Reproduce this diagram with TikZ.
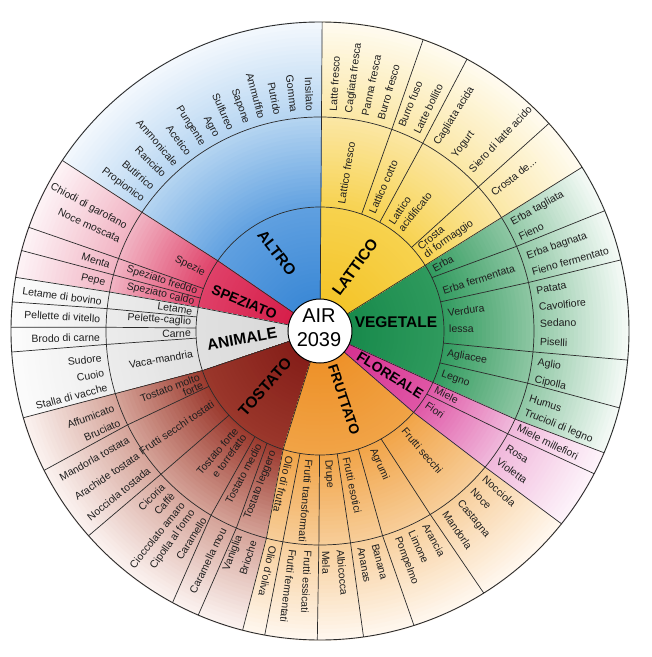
\documentclass[tikz,border=0pt]{standalone}
\usepackage{fontspec}
\setmainfont{Liberation Sans}
\definecolor{linec}{HTML}{2B2B2B}
\definecolor{txtc}{HTML}{1E1E1E}
\definecolor{altA}{HTML}{2F80D2}\definecolor{altB}{HTML}{5FA0E0}\definecolor{altC}{HTML}{B4D4F1}\definecolor{altD}{HTML}{F3F8FD}
\definecolor{latA}{HTML}{F3C01C}\definecolor{latB}{HTML}{F7D24E}\definecolor{latC}{HTML}{FBE7A4}\definecolor{latD}{HTML}{FFFBEF}
\definecolor{vegA}{HTML}{0F8445}\definecolor{vegB}{HTML}{2F9A5D}\definecolor{vegC}{HTML}{8CC6A2}\definecolor{vegD}{HTML}{F4FAF6}
\definecolor{floA}{HTML}{D2258A}\definecolor{floB}{HTML}{DF55A5}\definecolor{floC}{HTML}{F0B6DA}\definecolor{floD}{HTML}{FDF3FA}
\definecolor{fruA}{HTML}{EC8B1E}\definecolor{fruB}{HTML}{F1A346}\definecolor{fruC}{HTML}{F7CD98}\definecolor{fruD}{HTML}{FFF7EE}
\definecolor{tosA}{HTML}{7E1512}\definecolor{tosB}{HTML}{9A372B}\definecolor{tosC}{HTML}{D4A196}\definecolor{tosD}{HTML}{FBF2EF}
\definecolor{aniA}{HTML}{D6D6D6}\definecolor{aniB}{HTML}{E0E0E0}\definecolor{aniC}{HTML}{ECECEC}\definecolor{aniD}{HTML}{FCFCFC}
\definecolor{speA}{HTML}{D3123F}\definecolor{speB}{HTML}{DF4068}\definecolor{speC}{HTML}{F1B2C2}\definecolor{speD}{HTML}{FDF3F6}
\newcommand\wclip[6]{\clip (0,0) -- (#1:124pt) -- (#2:214pt) -- (#3:312pt) arc[start angle=#3, end angle=#6, radius=312pt] -- (#5:214pt) -- (#4:124pt) -- cycle;}
\newcommand\wgrad[4]{%
 \foreach \k in {0,...,77}{%
   \pgfmathsetmacro\rr{310-4*\k}%
   \pgfmathtruncatemacro\seg{\rr>=214 ? 2 : (\rr>=124 ? 1 : 0)}%
   \ifcase\seg\relax
     \pgfmathsetmacro\pp{100*\rr/124}\colorlet{rc}{#2!\pp!#1}%
   \or
     \pgfmathsetmacro\pp{100*(\rr-124)/90}\colorlet{rc}{#3!\pp!#2}%
   \else
     \pgfmathsetmacro\pp{min(100*(\rr-214)/95,100)}\colorlet{rc}{#4!\pp!#3}%
   \fi
   \fill[rc] (0,0) circle (\rr pt);}}
\begin{document}
\begin{tikzpicture}[
  wl/.style={draw=linec, line width=0.7pt},
  wtxt/.style={font=\fontsize{10.5}{12}\selectfont, text=txtc, inner sep=0pt},
  cat/.style={font=\fontsize{15.5}{18}\selectfont\bfseries, text=black, inner sep=0pt},
  catsm/.style={font=\fontsize{14}{16}\selectfont\bfseries, text=black, inner sep=0pt}]
\useasboundingbox (-320pt,-326pt) rectangle (332pt,331pt);
\fill[white] (-320pt,-326pt) rectangle (332pt,331pt);
% coloured sectors with radial fade
\begin{scope}\wclip{335.5}{335.7}{336.8}{392}{392}{392}\wgrad{vegA}{vegB}{vegC}{vegD}\end{scope}
\begin{scope}\wclip{32}{32}{32}{89.6}{89.6}{89.6}\wgrad{latA}{latB}{latC}{latD}\end{scope}
\begin{scope}\wclip{89.6}{89.6}{89.6}{145.5}{146.3}{146.5}\wgrad{altA}{altB}{altC}{altD}\end{scope}
\begin{scope}\wclip{145.5}{146.3}{146.5}{169}{169.5}{170}\wgrad{speA}{speB}{speC}{speD}\end{scope}
\begin{scope}\wclip{169}{169.5}{170}{198.6}{197}{196.3}\wgrad{aniA}{aniB}{aniC}{aniD}\end{scope}
\begin{scope}\wclip{198.6}{197}{196.3}{252.7}{255.5}{255.5}\wgrad{tosA}{tosB}{tosC}{tosD}\end{scope}
\begin{scope}\wclip{252.7}{255.5}{255.5}{319}{320.5}{321.4}\wgrad{fruA}{fruB}{fruC}{fruD}\end{scope}
\begin{scope}\wclip{319}{320.5}{321.4}{335.5}{335.7}{336.8}\wgrad{floA}{floB}{floC}{floD}\end{scope}
% main boundaries
\foreach \i/\m/\o in {32/32/32, 89.6/89.6/89.6, 145.5/146.3/146.5, 169/169.5/170, 198.6/197/196.3, 252.7/255.5/255.5, 319/320.5/321.4, 335.5/335.7/336.8}
  \draw[wl] (0,0) -- (\i:124pt) -- (\m:214pt) -- (\o:309pt);
% inner boundaries
\foreach \i/\m/\o in {70.4/70.4/70.5, 61.2/61.3/61.6, 42.4/42.3/42.2, 160/160.2/160.4, 164.6/164.8/164.9, 173.5/174/174.6, 178.6/179/179.3, 183.3/183.6/183.9, 206.5/206/206.8, 222.8/222/221.5, 238.4/239.4/241.5, 244.7/247/246.8, 260.7/260/259.7, 269.8/269.7/269.5, 278/278.2/278.1, 288/287/287.7, 299.5/301/302, 329.4/331.3/332.5, 345.1/345.9/345.6, 354.4/354.4/354.6, 13.6/13.1/13.3, 25.5/23.3/22.9}
  \draw[wl] (\i:124pt) -- (\m:214pt) -- (\o:309pt);
\draw[wl] (0,0) circle (124pt);
\draw[wl] (0,0) circle (214pt);
\draw[wl, line width=0.9pt] (0,0) circle (309pt);
% level 1 labels
\node[cat, rotate=-52] (cAltro) at (118.9:89pt) {ALTRO};
\node[cat, rotate=54] (cLatt) at (61.3:73pt) {LATTICO};
\node[cat] (cVeg) at (6.8:76.5pt) {VEGETALE};
\node[catsm, rotate=-32] (cFlo) at (-32.2:83pt) {FLOREALE};
\node[catsm, rotate=-71.6] (cFru) at (-70.8:73pt) {FRUTTATO};
\node[cat, rotate=48.6] (cTos) at (225.5:78.5pt) {TOSTATO};
\node[cat, rotate=10] (cAni) at (185.9:78.4pt) {ANIMALE};
\node[catsm, rotate=-22] (cSpe) at (159.1:81pt) {SPEZIATO};
% level 2, outward reading
\foreach \n/\a/\t in {m1/80.5/Lattico fresco, m2/66.3/Lattico cotto, m3/56.5/Lattico, m4/51.5/acidificato, m5/40/Crosta, m6/35.5/di formaggio,
  m21/256.5/Olio di frutta, m22/265.2/Frutti transformati, m23/273.5/Drupe, m24/281.8/Frutti esotici, m25/294/Agrumi, m26/310.5/Frutti secchi,
  m27/325.5/Fiori, m28/333.2/Miele, m29/340.5/Legno, m30/350/Agliacee, m31/0.8/lessa, m32/8/Verdura, m33/18/Erba fermentata, m34/28.8/Erba}
  \node[wtxt, anchor=west, rotate=\a] (\n) at (\a:129pt) {\t};
% level 2, inward reading
\foreach \n/\a/\t in {m7/153.5/Spezie, m8/162.3/Speziato freddo, m9/167/Speziato caldo,
  m10/171.3/Letame, m11/176/Pelette-caglio, m12/181/Carne, m13/190/Vaca-mandria,
  m14/200.8/Tostato molto, m15/204.5/forte, m16/214/Frutti secchi tostati, m17/229.5/Tostato forte, m18/234/e torrefatto,
  m19/241.8/Tostato medio, m20/248.8/Tostato leggero}
  \node[wtxt, anchor=east, rotate=\a-180] (\n) at (\a:129pt) {\t};
% level 3, outward reading
\foreach \n/\a/\t in {lf1/86.6/Latte fresco, lf2/82.4/Cagliata fresca, lf3/78.2/Panna fresca, lf4/74/Burro fresco, lf5/68.3/Burro fuso, lf6/64/Latte bollito,
  lf7/58/Cagliata acida, lf8/52.4/Yogurt, lf9/46.8/Siero di latte acido,
  fr1/257.7/Olio d'oliva, fr2/262.9/Frutti fermentati, fr3/266.9/Frutti essicati, fr4/271.5/Mela, fr5/275.3/Albicocca, fr6/280.7/Ananas, fr7/284.5/Banana,
  fr8/290.6/Pompelmo, fr9/294.6/Limone, fr10/298.6/Arancia, fr11/304.6/Mandorla, fr12/309.2/Castagna, fr13/313.8/Noce, fr14/318.2/Nocciola,
  fl1/323.9/Violetta, fl2/328/Rosa, fl3/334/Miele millefiori,
  ve1/338.2/Trucioli di legno, ve2/342.2/Humus, ve3/347.2/Cipolla, ve4/351.6/Aglio, ve5/357.3/Piselli, ve6/2/Sedano, ve7/6.2/Cavolfiore, ve8/10.6/Patata,
  ve9/15.6/Fieno fermentato, ve10/19.7/Erba bagnata, ve11/25.2/Fieno, ve12/29.4/Erba tagliata}
  \node[wtxt, anchor=west, rotate=\a] (\n) at (\a:220pt) {\t};
\node[wtxt, anchor=west, rotate=38.5] (lf10) at (38.5:220pt) {Crosta de...};
% level 3, inward reading
\foreach \n/\a/\t in {al1/92.6/Insilato, al2/96.8/Gomma, al3/101.1/Putrido, al4/105.3/Ammuffito, al5/109.6/Sapone, al6/113.8/Sulfureo, al7/118.1/Agro,
  al8/122.3/Pungente, al9/126.5/Acetico, al10/130.8/Ammonicale, al11/135/Rancido, al12/139.3/Butirrico, al13/143.5/Propionico,
  sp1/151.7/Chiodi di garofano, sp2/155.4/Noce moscata, sp3/162.6/Menta, sp4/167.4/Pepe,
  an1/172.3/Letame di bovino, an2/176.8/Pellette di vitello, an3/181.6/Brodo di carne, an4/187/Sudore, an5/191/Cuoio, an6/194.8/Stalla di vacche,
  to1/200.5/Affumicato, to2/204.5/Bruciato, to3/209.5/Mandorla tostata, to4/214.3/Arachide tostata, to5/219/Nocciola tostada,
  to6/224.6/Cicoria, to7/228/Caffè, to8/231.4/Cioccolato amaro, to9/234.8/Cipolla al forno, to10/238.2/Caramello,
  to11/244/Caramella mou, to12/248.6/Vaniglia, to13/252.4/Brioche}
  \node[wtxt, anchor=east, rotate=\a-180] (\n) at (\a:220pt) {\t};
% centre
\draw[line width=1pt, fill=white] (0,0) circle (32pt);
\node[font=\fontsize{20}{24}\selectfont, align=center, inner sep=0pt] (ctr) at (-1pt,3pt) {AIR\\2039};
\end{tikzpicture}
\end{document}
